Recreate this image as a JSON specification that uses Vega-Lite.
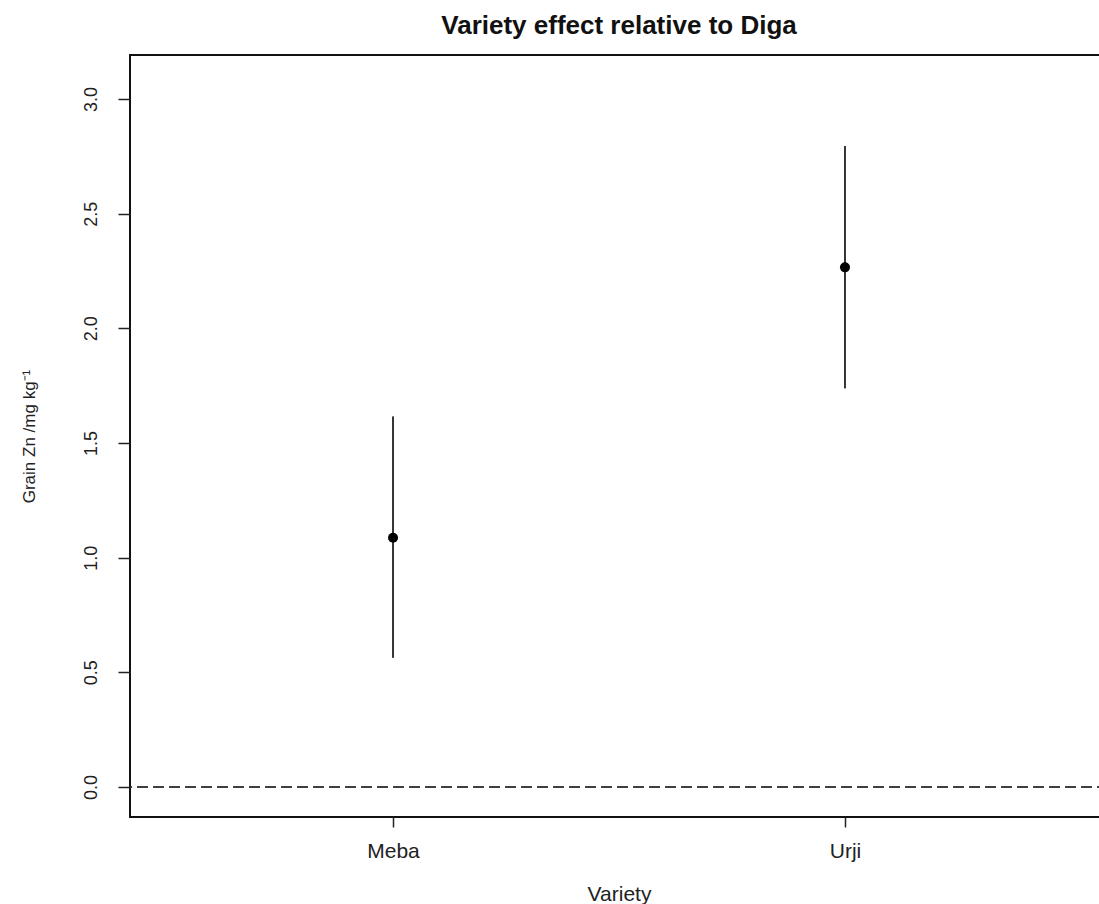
{
  "$schema": "https://vega.github.io/schema/vega-lite/v6.json",
  "autosize": "none",
  "padding": {"left": 130, "top": 55, "right": 0, "bottom": 87},
  "width": 978,
  "height": 762,
  "background": "white",
  "title": {
    "text": "Variety effect relative to Diga",
    "font": "Liberation Sans",
    "fontSize": 26,
    "fontWeight": "bold",
    "color": "#111",
    "anchor": "middle",
    "offset": 16
  },
  "config": {
    "view": {"stroke": "#111", "strokeWidth": 2},
    "axis": {
      "labelFont": "Liberation Sans",
      "titleFont": "Liberation Sans",
      "titleFontWeight": "normal",
      "labelColor": "#222",
      "titleColor": "#222",
      "tickColor": "#222",
      "tickWidth": 1.5,
      "domain": false,
      "grid": false
    }
  },
  "data": {
    "values": [
      {"Variety": "Meba", "estimate": 1.087, "lower": 0.563, "upper": 1.616},
      {"Variety": "Urji", "estimate": 2.266, "lower": 1.738, "upper": 2.795}
    ]
  },
  "layer": [
    {
      "mark": {"type": "rule", "strokeDash": [11, 5], "color": "#333", "strokeWidth": 1.5},
      "encoding": {"y": {"datum": 0, "type": "quantitative"}}
    },
    {
      "mark": {"type": "rule", "color": "#333", "strokeWidth": 2},
      "encoding": {
        "x": {
          "field": "Variety",
          "type": "nominal",
          "scale": {"type": "point", "padding": 0.582},
          "axis": {
            "title": "Variety",
            "labelAngle": 0,
            "labelFontSize": 21,
            "titleFontSize": 21,
            "tickSize": 10,
            "labelPadding": 13,
            "titlePadding": 22
          }
        },
        "y": {
          "field": "lower",
          "type": "quantitative",
          "scale": {"domain": [-0.131, 3.192], "nice": false, "zero": false},
          "axis": {
            "title": "Grain Zn /mg kg⁻¹",
            "values": [0, 0.5, 1, 1.5, 2, 2.5, 3],
            "format": ".1f",
            "labelAngle": -90,
            "labelFontSize": 18,
            "titleFontSize": 17,
            "tickSize": 12,
            "labelPadding": 18,
            "titlePadding": 44
          }
        },
        "y2": {"field": "upper"}
      }
    },
    {
      "mark": {"type": "point", "filled": true, "color": "black", "size": 100, "opacity": 1},
      "encoding": {
        "x": {"field": "Variety", "type": "nominal"},
        "y": {"field": "estimate", "type": "quantitative"}
      }
    }
  ]
}
